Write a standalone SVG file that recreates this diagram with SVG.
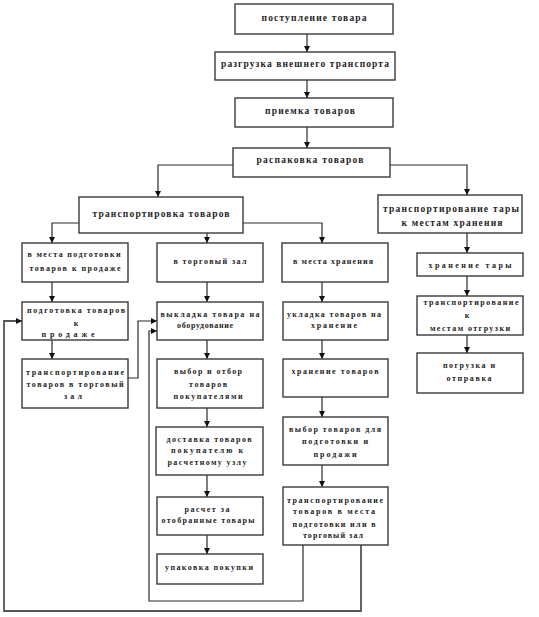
<svg xmlns="http://www.w3.org/2000/svg" width="539" height="617" viewBox="0 0 539 617">
<style>
.box{fill:#fff;stroke:#3a3a3a;stroke-width:1.4}
.t{font-family:"Liberation Serif","Times New Roman",serif;font-weight:bold;font-size:8px;fill:#1e1e1e;text-anchor:middle}
.tl{font-size:9.5px}
.c{fill:none;stroke:#2a2a2a;stroke-width:1.2}
.g{fill:none;stroke:#555;stroke-width:1.8}
</style>
<defs>
<marker id="ah" viewBox="0 0 10 10" refX="10" refY="5" markerWidth="6" markerHeight="6" markerUnits="userSpaceOnUse" orient="auto">
<path d="M0,0 L10,5 L0,10 z" fill="#111"/>
</marker>
</defs>
<rect width="539" height="617" fill="#fff"/>
<g id="connectors">
<path class="c" d="M307,34 V52" marker-end="url(#ah)"/>
<path class="c" d="M307,80 V98" marker-end="url(#ah)"/>
<path class="c" d="M307,127 V148" marker-end="url(#ah)"/>
<path class="c" d="M233,165 H158 V197" marker-end="url(#ah)"/>
<path class="c" d="M390,165 H467 V195" marker-end="url(#ah)"/>
<path class="c" d="M79,223 H52 V243" marker-end="url(#ah)"/>
<path class="c" d="M207,233 V243" marker-end="url(#ah)"/>
<path class="c" d="M243,223 H322 V243" marker-end="url(#ah)"/>
<path class="c" d="M52,282 V302" marker-end="url(#ah)"/>
<path class="c" d="M52,340 V359" marker-end="url(#ah)"/>
<path class="c" d="M207,282 V302" marker-end="url(#ah)"/>
<path class="c" d="M207,340 V359" marker-end="url(#ah)"/>
<path class="c" d="M207,408 V427" marker-end="url(#ah)"/>
<path class="c" d="M207,475 V497" marker-end="url(#ah)"/>
<path class="c" d="M207,535 V554" marker-end="url(#ah)"/>
<path class="c" d="M322,282 V302" marker-end="url(#ah)"/>
<path class="c" d="M322,340 V359" marker-end="url(#ah)"/>
<path class="c" d="M322,397 V417" marker-end="url(#ah)"/>
<path class="c" d="M322,465 V487" marker-end="url(#ah)"/>
<path class="c" d="M467,233 V253" marker-end="url(#ah)"/>
<path class="c" d="M467,276 V296" marker-end="url(#ah)"/>
<path class="c" d="M467,335 V353" marker-end="url(#ah)"/>
<path class="c" d="M128,378 H138 V321 H157" marker-end="url(#ah)"/>
<path class="c" d="M303,545 V601 H149 V331 H157" marker-end="url(#ah)"/>
<path class="g" d="M361,545 V611 H4 V321 H22" marker-end="url(#ah)"/>
</g>
<g id="n1"><rect class="box" x="235" y="4" width="158" height="30"/><text class="t tl" x="314" y="21" textLength="105" lengthAdjust="spacing">поступление товара</text></g>
<g id="n2"><rect class="box" x="215" y="52" width="180" height="28"/><text class="t tl" x="305" y="67" textLength="168" lengthAdjust="spacing">разгрузка внешнего транспорта</text></g>
<g id="n3"><rect class="box" x="235" y="98" width="158" height="29"/><text class="t tl" x="310" y="114" textLength="90" lengthAdjust="spacing">приемка товаров</text></g>
<g id="n4"><rect class="box" x="233" y="148" width="157" height="29"/><text class="t tl" x="310" y="163" textLength="107" lengthAdjust="spacing">распаковка товаров</text></g>
<g id="n5"><rect class="box" x="79" y="197" width="164" height="36"/><text class="t tl" x="161" y="217" textLength="137" lengthAdjust="spacing">транспортировка товаров</text></g>
<g id="n6"><rect class="box" x="378" y="195" width="144" height="38"/><text class="t tl" x="451" y="212" textLength="136" lengthAdjust="spacing">транспортирование тары</text><text class="t tl" x="452" y="226" textLength="101" lengthAdjust="spacing">к местам хранения</text></g>
<g id="n7"><rect class="box" x="22" y="243" width="106" height="39"/><text class="t" x="74" y="257" textLength="93" lengthAdjust="spacing">в места подготовки</text><text class="t" x="75" y="271" textLength="91" lengthAdjust="spacing">товаров к продаже</text></g>
<g id="n8"><rect class="box" x="157" y="243" width="106" height="39"/><text class="t" x="210" y="264" textLength="73" lengthAdjust="spacing">в торговый зал</text></g>
<g id="n9"><rect class="box" x="282" y="243" width="106" height="39"/><text class="t" x="333" y="264" textLength="80" lengthAdjust="spacing">в места хранения</text></g>
<g id="n10"><rect class="box" x="417" y="253" width="106" height="23"/><text class="t" x="470" y="268" textLength="83" lengthAdjust="spacing">хранение тары</text></g>
<g id="n11"><rect class="box" x="417" y="296" width="106" height="39"/><text class="t" x="471" y="305" textLength="95" lengthAdjust="spacing">транспортирование</text><text class="t" x="467" y="318">к</text><text class="t" x="470" y="331" textLength="80" lengthAdjust="spacing">местам отгрузки</text></g>
<g id="n12"><rect class="box" x="417" y="353" width="106" height="40"/><text class="t" x="469" y="368" textLength="52" lengthAdjust="spacing">погрузка и</text><text class="t" x="469" y="381" textLength="45" lengthAdjust="spacing">отправка</text></g>
<g id="n13"><rect class="box" x="22" y="302" width="106" height="38"/><text class="t" x="76" y="313" textLength="98" lengthAdjust="spacing">подготовка товаров</text><text class="t" x="76" y="325.5">к</text><text class="t" x="68" y="337" textLength="53" lengthAdjust="spacing">продаже</text></g>
<g id="n14"><rect class="box" x="22" y="359" width="106" height="49"/><text class="t" x="75" y="375" textLength="98" lengthAdjust="spacing">транспортирование</text><text class="t" x="75" y="387" textLength="97" lengthAdjust="spacing">товаров в торговый</text><text class="t" x="73" y="399" textLength="18" lengthAdjust="spacing">зал</text></g>
<g id="n15"><rect class="box" x="157" y="302" width="106" height="38"/><text class="t" x="210" y="317" textLength="99" lengthAdjust="spacing">выкладка товара на</text><text class="t" x="205" y="328" textLength="56" lengthAdjust="spacing">оборудование</text></g>
<g id="n16"><rect class="box" x="157" y="359" width="106" height="49"/><text class="t" x="208" y="374" textLength="68" lengthAdjust="spacing">выбор и отбор</text><text class="t" x="208" y="387" textLength="38" lengthAdjust="spacing">товаров</text><text class="t" x="208" y="399" textLength="69" lengthAdjust="spacing">покупателями</text></g>
<g id="n17"><rect class="box" x="156" y="427" width="107" height="48"/><text class="t" x="209" y="441.5" textLength="85" lengthAdjust="spacing">доставка товаров</text><text class="t" x="207" y="453" textLength="72" lengthAdjust="spacing">покупателю к</text><text class="t" x="207" y="465" textLength="79" lengthAdjust="spacing">расчетному узлу</text></g>
<g id="n18"><rect class="box" x="157" y="497" width="106" height="38"/><text class="t" x="207" y="511.5" textLength="45" lengthAdjust="spacing">расчет за</text><text class="t" x="208" y="522.5" textLength="93" lengthAdjust="spacing">отобранные товары</text></g>
<g id="n19"><rect class="box" x="157" y="554" width="106" height="30"/><text class="t" x="209" y="570" textLength="88" lengthAdjust="spacing">упаковка покупки</text></g>
<g id="n20"><rect class="box" x="283" y="302" width="105" height="38"/><text class="t" x="334" y="317" textLength="94" lengthAdjust="spacing">укладка товаров на</text><text class="t" x="334" y="328" textLength="46" lengthAdjust="spacing">хранение</text></g>
<g id="n21"><rect class="box" x="283" y="359" width="105" height="38"/><text class="t" x="335" y="374" textLength="87" lengthAdjust="spacing">хранение товаров</text></g>
<g id="n22"><rect class="box" x="283" y="417" width="105" height="48"/><text class="t" x="335" y="431.5" textLength="92" lengthAdjust="spacing">выбор товаров для</text><text class="t" x="335" y="444" textLength="66" lengthAdjust="spacing">подготовки и</text><text class="t" x="335" y="456.5" textLength="43" lengthAdjust="spacing">продажи</text></g>
<g id="n23"><rect class="box" x="283" y="487" width="105" height="58"/><text class="t" x="335" y="502.5" textLength="96" lengthAdjust="spacing">транспортирование</text><text class="t" x="334" y="514" textLength="82" lengthAdjust="spacing">товаров в места</text><text class="t" x="334" y="526.5" textLength="83" lengthAdjust="spacing">подготовки или в</text><text class="t" x="333" y="538" textLength="60" lengthAdjust="spacing">торговый зал</text></g>
</svg>
